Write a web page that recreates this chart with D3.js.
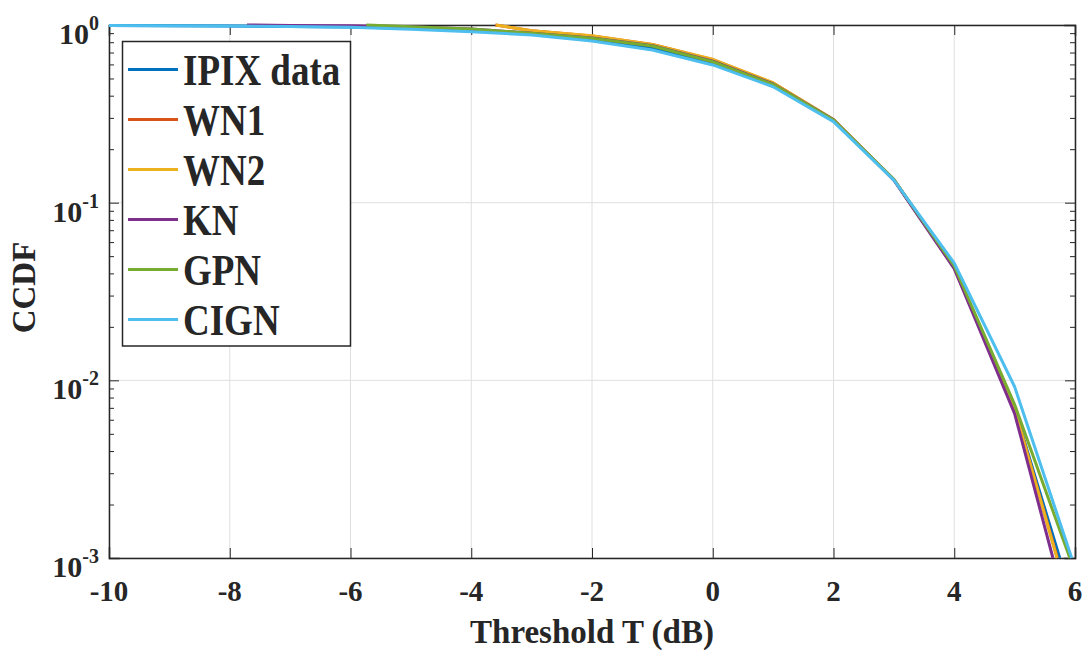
<!DOCTYPE html>
<html>
<head>
<meta charset="utf-8">
<script src="https://cdn.jsdelivr.net/npm/d3@7"></script>
<style>
  html, body { margin: 0; padding: 0; background: #fff; }
  svg { display: block; }
  text { font-family: "Liberation Serif", "Times New Roman", serif; font-weight: bold; fill: #262626; }
</style>
</head>
<body>
<svg id="chart" width="1091" height="655"></svg>
<script>
// ---- data ----
const thresholds = [-10, -9, -8, -7, -6, -5, -4, -3, -2, -1, 0, 1, 2, 3, 4, 5, 6];
const seriesNames = ["IPIX data", "WN1", "WN2", "KN", "GPN", "CIGN"];
const seriesColors = ["#0072BD", "#D95319", "#EDB120", "#7E2F8E", "#77AC30", "#4DBEEE"];
const ipixData = [0.992, 0.990, 0.986, 0.980, 0.975, 0.960, 0.935, 0.890, 0.830, 0.745, 0.610, 0.458, 0.290, 0.135, 0.0432, 0.0069, 0.00052];
const wn1Data  = [1.10, 1.09, 1.08, 1.07, 1.06, 1.055, 1.051, 0.928, 0.868, 0.776, 0.638, 0.471, 0.293, 0.135, 0.0430, 0.0069, 0.00045];
const wn2Data  = [1.10, 1.09, 1.08, 1.07, 1.06, 1.055, 1.052, 0.929, 0.870, 0.778, 0.641, 0.473, 0.294, 0.135, 0.0430, 0.0069, 0.00044];
const knData   = [1.010, 1.006, 1.002, 0.995, 0.990, 0.978, 0.950, 0.900, 0.845, 0.765, 0.625, 0.466, 0.293, 0.134, 0.0425, 0.0065, 0.00034];
const gpnData  = [1.05, 1.04, 1.03, 1.02, 1.008, 0.978, 0.950, 0.898, 0.842, 0.762, 0.621, 0.463, 0.292, 0.135, 0.0440, 0.0073, 0.00083];
const cignData = [0.993, 0.990, 0.986, 0.980, 0.970, 0.945, 0.917, 0.879, 0.813, 0.723, 0.596, 0.449, 0.286, 0.134, 0.0457, 0.0092, 0.00088];
const xTickValues = [-10, -8, -6, -4, -2, 0, 2, 4, 6];
const yTickExponents = [0, -1, -2, -3];
const xLabel = "Threshold T (dB)";
const yLabel = "CCDF";

const allSeries = [ipixData, wn1Data, wn2Data, knData, gpnData, cignData];

// ---- layout ----
const L = 109, R = 1075, T = 25, B = 558;
const svg = d3.select("#chart");
const x = d3.scaleLinear().domain([-10, 6]).range([L, R]);
const y = d3.scaleLog().domain([1e-3, 1]).range([B, T]);
const axisColor = "#262626";

// grid
const grid = svg.append("g");
xTickValues.forEach(v => {
  grid.append("line").attr("x1", x(v)).attr("x2", x(v)).attr("y1", T).attr("y2", B)
    .attr("stroke", "#dfdfdf").attr("stroke-width", 1);
});
yTickExponents.forEach(e => {
  const v = Math.pow(10, e);
  grid.append("line").attr("x1", L).attr("x2", R).attr("y1", y(v)).attr("y2", y(v))
    .attr("stroke", "#dfdfdf").attr("stroke-width", 1);
});

// axes via d3 axis generators (ticks inward)
const majorLen = 10, minorLen = 5;
const xAxisB = d3.axisBottom(x).tickValues(xTickValues).tickSize(-majorLen).tickFormat("");
const xAxisT = d3.axisTop(x).tickValues(xTickValues).tickSize(-majorLen).tickFormat("");
const yMajors = yTickExponents.map(e => Math.pow(10, e));
const yMinors = [];
for (let e = -3; e < 0; e++) for (let m = 2; m <= 9; m++) yMinors.push(m * Math.pow(10, e));
const yAxisL = d3.axisLeft(y).tickValues(yMajors).tickSize(-majorLen).tickFormat("");
const yAxisR = d3.axisRight(y).tickValues(yMajors).tickSize(-majorLen).tickFormat("");
const yAxisLm = d3.axisLeft(y).tickValues(yMinors).tickSize(-minorLen).tickFormat("");
const yAxisRm = d3.axisRight(y).tickValues(yMinors).tickSize(-minorLen).tickFormat("");

function styleAxis(g) {
  g.selectAll("path").attr("stroke", axisColor).attr("stroke-width", 1.5);
  g.selectAll("line").attr("stroke", axisColor).attr("stroke-width", 1);
}
svg.append("g").attr("transform", `translate(0,${B})`).call(xAxisB).call(styleAxis);
svg.append("g").attr("transform", `translate(0,${T})`).call(xAxisT).call(styleAxis);
svg.append("g").attr("transform", `translate(${L},0)`).call(yAxisL).call(styleAxis);
svg.append("g").attr("transform", `translate(${R},0)`).call(yAxisR).call(styleAxis);
svg.append("g").attr("transform", `translate(${L},0)`).call(yAxisLm).call(styleAxis).select("path").remove();
svg.append("g").attr("transform", `translate(${R},0)`).call(yAxisRm).call(styleAxis).select("path").remove();
svg.selectAll(".domain").attr("stroke-linecap", "square");

// tick labels
xTickValues.forEach(v => {
  svg.append("text").attr("x", x(v)).attr("y", 601).attr("text-anchor", "middle")
    .attr("font-size", 29).text(String(v).replace("-", "-"));
});
yTickExponents.forEach(e => {
  const t = svg.append("text").attr("x", 99).attr("y", y(Math.pow(10, e)) + 19)
    .attr("text-anchor", "end").attr("font-size", 30);
  t.append("tspan").text("10");
  t.append("tspan").attr("dy", -14).attr("font-size", 20).text(String(e));
});

// axis titles
svg.append("text").attr("x", (L + R) / 2).attr("y", 643).attr("text-anchor", "middle")
  .attr("font-size", 33).text(xLabel);
svg.append("text").attr("transform", `translate(35,${(T + B) / 2 - 4}) rotate(-90)`)
  .attr("text-anchor", "middle").attr("font-size", 33).text(yLabel);

// geometric clipping of the log-scale polyline to the axis limits (like MATLAB)
function clipToLimits(xs, vs) {
  const lo = Math.log10(1e-3), hi = Math.log10(1);
  const out = [];
  let prevEndT1 = false;
  for (let i = 0; i < xs.length - 1; i++) {
    const xa = xs[i], xb = xs[i + 1], la = Math.log10(vs[i]), lb = Math.log10(vs[i + 1]);
    const d = lb - la;
    let tmin = 0, tmax = 1;
    if (d === 0) {
      if (la < lo || la > hi) { prevEndT1 = false; continue; }
    } else {
      const ta = (lo - la) / d, tb = (hi - la) / d;
      tmin = Math.max(0, Math.min(ta, tb));
      tmax = Math.min(1, Math.max(ta, tb));
      if (tmin > tmax) { prevEndT1 = false; continue; }
    }
    const p0 = { x: xa + (xb - xa) * tmin, v: Math.pow(10, la + d * tmin) };
    const p1 = { x: xa + (xb - xa) * tmax, v: Math.pow(10, la + d * tmax) };
    if (prevEndT1 && tmin === 0) {
      out.push(p1);
    } else {
      if (out.length) out.push(null);
      out.push(p0, p1);
    }
    prevEndT1 = (tmax === 1);
  }
  return out;
}

const line = d3.line().defined(d => d !== null).x(d => x(d.x)).y(d => y(d.v));
const linesG = svg.append("g");
allSeries.forEach((vals, i) => {
  linesG.append("path").attr("d", line(clipToLimits(thresholds, vals)))
    .attr("fill", "none").attr("stroke", seriesColors[i]).attr("stroke-width", 3)
    .attr("stroke-linejoin", "round");
});

// legend
const lg = svg.append("g");
lg.append("rect").attr("x", 122.5).attr("y", 41.5).attr("width", 228).attr("height", 304.5)
  .attr("fill", "#fff").attr("stroke", axisColor).attr("stroke-width", 1.5);
seriesNames.forEach((name, i) => {
  const cy = 69.5 + i * 50;
  lg.append("line").attr("x1", 128).attr("x2", 178).attr("y1", cy).attr("y2", cy)
    .attr("stroke", seriesColors[i]).attr("stroke-width", 3);
  lg.append("text").attr("transform", `translate(183,${cy + 15}) scale(1,1.2)`)
    .attr("font-size", 37).text(name);
});
</script>
</body>
</html>
